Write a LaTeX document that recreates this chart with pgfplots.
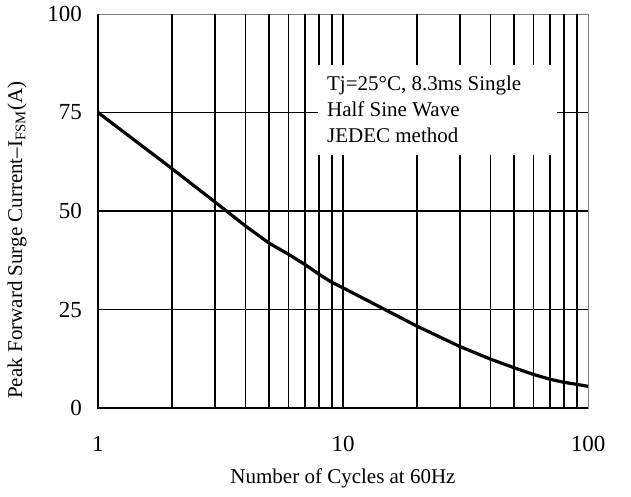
\documentclass[border=0pt]{standalone}
\usepackage{fontspec}
\setmainfont{Liberation Serif}
\usepackage{pgfplots}
\pgfplotsset{compat=1.18}

\begin{document}
\begin{tikzpicture}
\begin{axis}[
    at={(0pt,0pt)}, anchor=south west,
    scale only axis, width=490pt, height=394pt,
    xmode=log, xmin=1, xmax=100, ymin=0, ymax=100,
    xtick={1,10,100}, xticklabels={1,10,100},
    ytick={0,25,50,75,100},
    xminorticks=false,
    major tick length=0pt, minor tick length=0pt,
    extra x ticks={2,3,4,5,6,7,8,9,10,20,30,40,50,60,70,80,90},
    extra x tick labels={},
    extra x tick style={grid=major},
    extra y ticks={25,50,75},
    extra y tick labels={},
    extra y tick style={grid=major},
    grid style={black, line width=1.6pt},
    axis line style={gray, line width=0.8pt},
    clip=false,
    /pgf/number format/assume math mode=true,
    tick label style={font=\fontsize{23}{26}\selectfont},
    xticklabel style={anchor=center, yshift=-36pt},
    yticklabel style={anchor=east, inner sep=0pt, xshift=-16pt},
    label style={font=\fontsize{21}{24}\selectfont},
    xlabel={Number of Cycles at 60Hz},
    ylabel={Peak Forward Surge Current--I\textsubscript{FSM}(A)},
    xlabel style={at={(rel axis cs:0.5,-0.178)}, anchor=center},
    ylabel style={at={(rel axis cs:-0.165,0.426)}, anchor=center},
]
\addplot[black, line width=3.2pt, line join=round] coordinates {
    (1,75) (2,60.8) (3,52.3) (4,46.2) (5,41.8) (6,39) (7,36.4)
    (8,33.9) (9,31.9) (10,30.5) (20,20.8) (30,15.6) (40,12.4)
    (50,10.2) (60,8.5) (70,7.3) (80,6.5) (90,6) (100,5.5)
};
\fill[white] (axis cs:7.9,87.1) rectangle (axis cs:74.7,64.2);
\node[anchor=base west, inner sep=0pt, font=\fontsize{21}{24}\selectfont]
    at (axis cs:8.6,80.7) {Tj=25°C, 8.3ms Single};
\node[anchor=base west, inner sep=0pt, font=\fontsize{21}{24}\selectfont]
    at (axis cs:8.6,73.9) {Half Sine Wave};
\node[anchor=base west, inner sep=0pt, font=\fontsize{21}{24}\selectfont]
    at (axis cs:8.6,67.3) {JEDEC method};
\draw[black, line width=1.8pt] (rel axis cs:0,1) -- (rel axis cs:0,0) -- (rel axis cs:1,0);
\end{axis}
\path (-98pt,-89pt) rectangle (533pt,408pt);
\end{tikzpicture}
\end{document}
